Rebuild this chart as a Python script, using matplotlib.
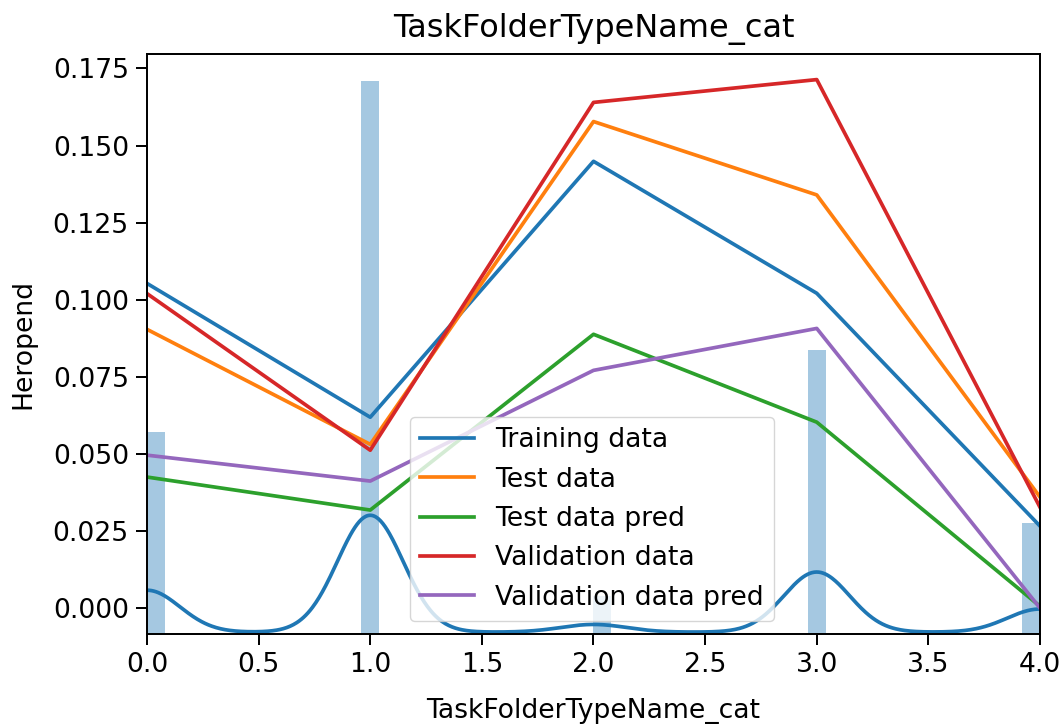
import numpy as np
import matplotlib
matplotlib.use("Agg")
import matplotlib.pyplot as plt

# ---- data ----
categories = [0.0, 1.0, 2.0, 3.0, 4.0]
hist_tops = [0.057, 0.171, 0.004, 0.0836, 0.0275]

kde_peaks = [0.0058, 0.0301, -0.0053, 0.0117, -0.0003]
kde_base = -0.0078
kde_bw = 0.147

training = [0.1053, 0.0619, 0.1449, 0.1021, 0.0266]
test = [0.0904, 0.0531, 0.1578, 0.1340, 0.0360]
test_pred = [0.0425, 0.0318, 0.0888, 0.0603, 0.0006]
validation = [0.1020, 0.0512, 0.1640, 0.1714, 0.0327]
validation_pred = [0.0496, 0.0412, 0.0771, 0.0907, 0.0000]

series_labels = ["Training data", "Test data", "Test data pred",
                 "Validation data", "Validation data pred"]
series_colors = ["tab:blue", "tab:orange", "tab:green", "tab:red", "tab:purple"]

S = 1.92
Y_LOW, Y_HIGH = -0.0084, 0.1797
plt.rcParams.update({
    "font.family": ["DejaVu Sans"],
    "font.size": 10 * S,
    "axes.linewidth": 0.8 * 1.77,
    "xtick.major.size": 8,
    "ytick.major.size": 8,
    "xtick.major.width": 0.8 * 1.77,
    "ytick.major.width": 0.8 * 1.77,
    "xtick.major.pad": 5,
    "ytick.major.pad": 5,
})

fig = plt.figure(figsize=(10.63, 7.26), dpi=100)
ax = fig.add_axes([147 / 1063, 1 - 634 / 726, 893 / 1063, 580 / 726])

# histogram (distplot style), bars rising from the bottom of the axes
ax.hist(categories, bins=50, range=(0, 4),
        weights=[t - Y_LOW for t in hist_tops], bottom=Y_LOW,
        color="tab:blue", alpha=0.4)

# kde curve
xs = np.linspace(0, 4, 800)
kde = np.full_like(xs, kde_base)
for c, p in zip(categories, kde_peaks):
    kde += (p - kde_base) * np.exp(-(xs - c) ** 2 / (2 * kde_bw ** 2))
ax.plot(xs, kde, color="tab:blue", lw=1.5 * 1.77)

for vals, lab, col in zip([training, test, test_pred, validation, validation_pred],
                          series_labels, series_colors):
    ax.plot(categories, vals, color=col, lw=1.5 * 1.77, label=lab)

ax.set_xlim(0, 4)
ax.set_ylim(Y_LOW, Y_HIGH)
ax.set_xticks(np.arange(0, 4.01, 0.5))
ax.set_yticks(np.arange(0, 0.176, 0.025))
ax.yaxis.set_major_formatter(matplotlib.ticker.FormatStrFormatter("%.3f"))
ax.xaxis.set_major_formatter(matplotlib.ticker.FormatStrFormatter("%.1f"))

ax.set_title("TaskFolderTypeName_cat", fontsize=12 * S, pad=12)
ax.set_xlabel("TaskFolderTypeName_cat", labelpad=14)
ax.set_ylabel("Heropend", labelpad=12)

ax.legend(loc="lower left", bbox_to_anchor=(0.294, 0.022), borderaxespad=0)

fig.savefig("out.png", dpi=100)
